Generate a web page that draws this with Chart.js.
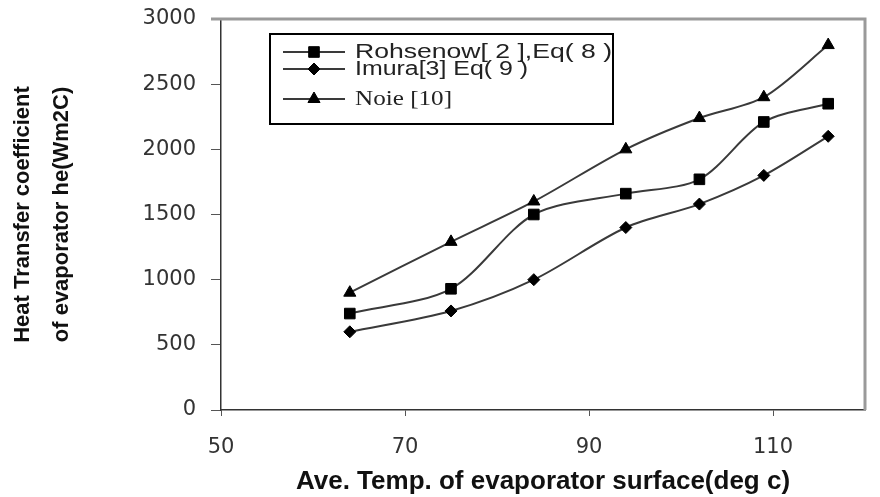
<!DOCTYPE html>
<html>
<head>
<meta charset="utf-8">
<script src="https://cdn.jsdelivr.net/npm/chart.js@4/dist/chart.umd.min.js"></script>
<style>
	html, body { margin: 0; background: #fff; }
	#wrap { width: 880px; height: 497px; }
</style>
</head>
<body>
<div id="wrap"><canvas id="myChart"></canvas></div>
<script>
const temps = [64, 75, 84, 94, 102, 109, 116];
const rohsenow = [740, 930, 1500, 1660, 1770, 2210, 2350];
const imura = [600, 760, 1000, 1400, 1580, 1800, 2100];
const noie = [900, 1290, 1600, 2000, 2240, 2400, 2800];
const seriesLabels = ["Rohsenow[ 2 ],Eq( 8 )", "Imura[3] Eq( 9 )", "Noie [10]"];
const xTicks = [50, 70, 90, 110];
const yTicks = [0, 500, 1000, 1500, 2000, 2500, 3000];

function series(label, values, pointStyle, radius) {
	return {
		label,
		data: temps.map((x, i) => ({x, y: values[i]})),
		borderColor: "#3a3a3a",
		borderWidth: 2,
		tension: 0.3,
		pointStyle,
		pointRadius: radius,
		pointBackgroundColor: "#000",
		pointBorderColor: "#000",
		pointBorderWidth: 1
	};
}

// Boxed legend inside the plot, plus grey top/right frame lines.
const framePlugin = {
	id: "frame",
	afterDraw(chart) {
		const {ctx, chartArea: a} = chart;
		ctx.save();
		ctx.strokeStyle = "#9a9a9a";
		ctx.lineWidth = 3;
		ctx.beginPath();
		ctx.moveTo(a.left - 10, a.top);
		ctx.lineTo(a.right, a.top);
		ctx.lineTo(a.right, a.bottom);
		ctx.stroke();

		ctx.strokeStyle = "#000";
		ctx.lineWidth = 2;
		ctx.strokeRect(270, 34, 343, 90);

		const rows = [
			{y: 52, font: "20px 'Liberation Sans', Arial, sans-serif", width: 257},
			{y: 69, font: "20px 'Liberation Sans', Arial, sans-serif", width: 173},
			{y: 99, font: "21px 'Liberation Serif', serif", width: 97}
		];
		chart.data.datasets.forEach((ds, i) => {
			const r = rows[i];
			ctx.strokeStyle = ds.borderColor;
			ctx.lineWidth = 2;
			ctx.beginPath();
			ctx.moveTo(283, r.y);
			ctx.lineTo(345, r.y);
			ctx.stroke();
			ctx.fillStyle = "#000";
			ctx.strokeStyle = "#000";
			ctx.lineWidth = 1;
			Chart.helpers.drawPoint(ctx, {pointStyle: ds.pointStyle, radius: ds.pointRadius, rotation: 0, borderWidth: 1}, 314, r.y);

			ctx.font = r.font;
			ctx.fillStyle = "#222";
			ctx.textBaseline = "middle";
			ctx.textAlign = "left";
			const w = ctx.measureText(ds.label).width;
			ctx.save();
			ctx.translate(355, r.y);
			ctx.scale(r.width / w, 1);
			ctx.fillText(ds.label, 0, 0);
			ctx.restore();
		});
		ctx.restore();
	}
};

const tickFont = {family: "'DejaVu Sans', sans-serif", size: 21};

const ctx = document.getElementById("myChart").getContext("2d");
const myChart = new Chart(ctx, {
	type: "line",
	data: {
		datasets: [
			series(seriesLabels[0], rohsenow, "rect", 7.5),
			series(seriesLabels[1], imura, "rectRot", 6),
			series(seriesLabels[2], noie, "triangle", 7)
		]
	},
	options: {
		responsive: true,
		maintainAspectRatio: false,
		animation: false,
		layout: {padding: {top: 19, right: 15, left: 0, bottom: 0}},
		plugins: {
			legend: {display: false},
			tooltip: {enabled: false}
		},
		scales: {
			x: {
				type: "linear",
				min: 50,
				max: 120,
				afterBuildTicks: scale => { scale.ticks = xTicks.map(value => ({value})); },
				afterFit: scale => {
					scale.height = 87;
					scale.paddingLeft = 0;
					scale.paddingRight = 0;
				},
				grid: {drawOnChartArea: false, tickLength: 6, color: "#555"},
				border: {color: "#333", width: 1.5},
				ticks: {font: tickFont, color: "#333", padding: 19, maxRotation: 0, callback: v => String(v)},
				title: {
					display: true,
					text: "Ave. Temp. of evaporator surface(deg c)",
					font: {family: "'Liberation Sans', Arial, sans-serif", size: 26, weight: "bold"},
					color: "#111",
					padding: {top: 0, bottom: 0}
				}
			},
			y: {
				min: 0,
				max: 3000,
				afterBuildTicks: scale => { scale.ticks = yTicks.map(value => ({value})); },
				afterFit: scale => {
					scale.width = 221;
					scale.paddingTop = 0;
					scale.paddingBottom = 0;
				},
				grid: {drawOnChartArea: false, tickLength: 10, color: "#555"},
				border: {color: "#333", width: 1.5},
				ticks: {font: tickFont, color: "#333", padding: 15, callback: v => String(v)},
				title: {
					display: true,
					text: ["Heat Transfer coefficient", "of evaporator he(Wm2C)"],
					font: {family: "'Liberation Sans', Arial, sans-serif", size: 22, weight: "bold", lineHeight: 1.8},
					color: "#111",
					padding: {top: 3, bottom: 0}
				}
			}
		}
	},
	plugins: [framePlugin]
});
</script>
</body>
</html>
